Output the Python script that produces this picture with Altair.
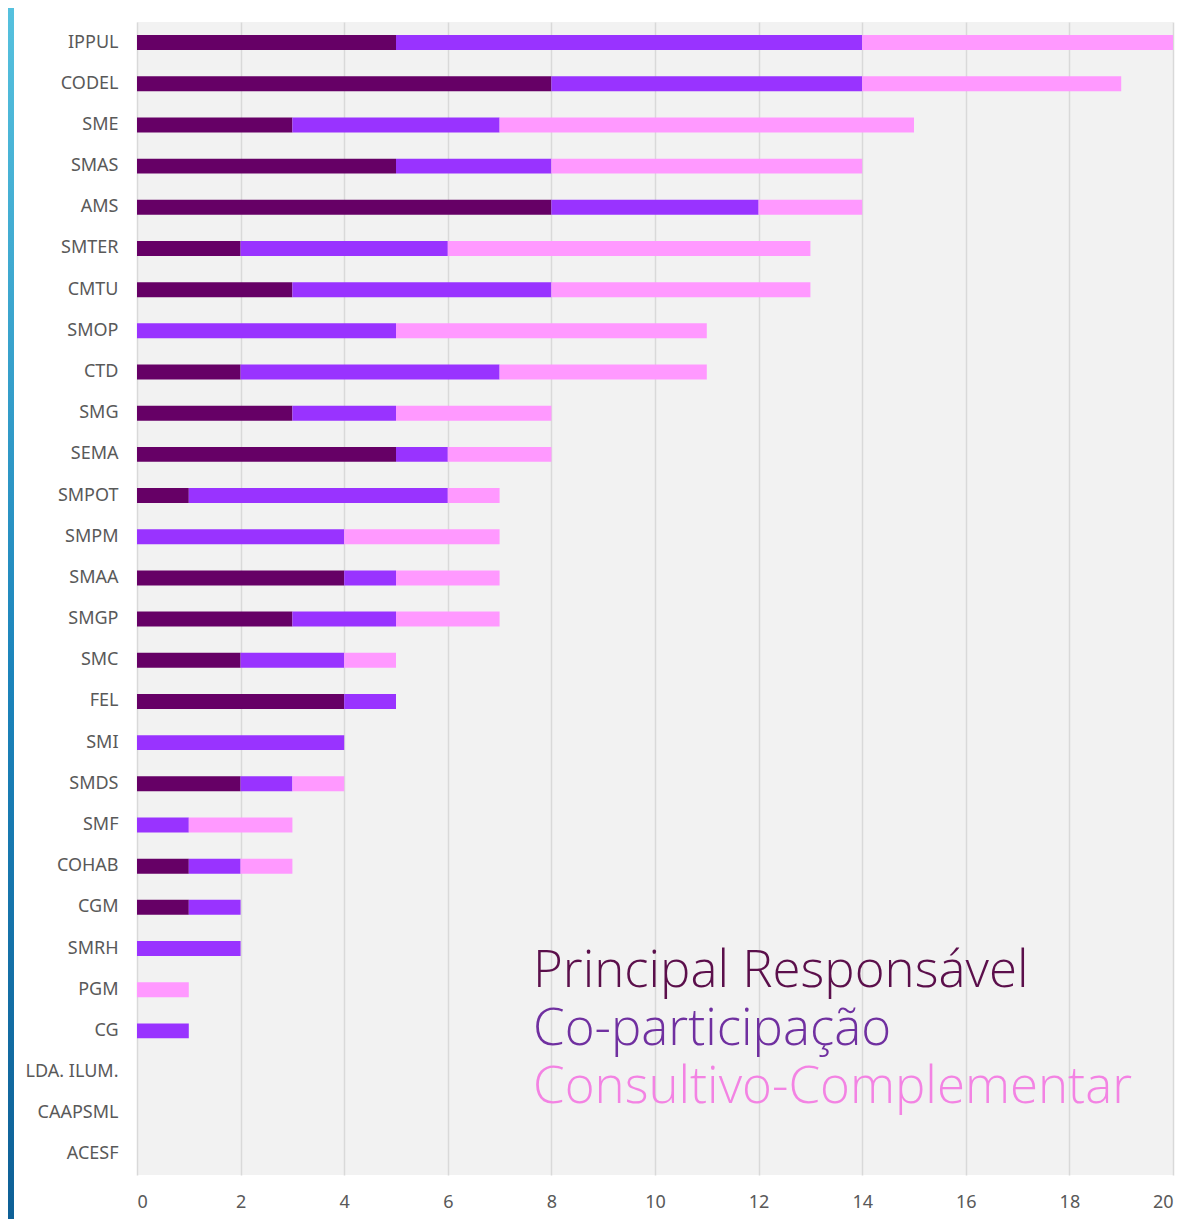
import altair as alt
import pandas as pd

categories = ["IPPUL", "CODEL", "SME", "SMAS", "AMS", "SMTER", "CMTU", "SMOP", "CTD",
              "SMG", "SEMA", "SMPOT", "SMPM", "SMAA", "SMGP", "SMC", "FEL", "SMI",
              "SMDS", "SMF", "COHAB", "CGM", "SMRH", "PGM", "CG", "LDA. ILUM.",
              "CAAPSML", "ACESF"]
principal = [5, 8, 3, 5, 8, 2, 3, 0, 2, 3, 5, 1, 0, 4, 3, 2, 4, 0, 2, 0, 1, 1, 0, 0, 0, 0, 0, 0]
coparticipacao = [9, 6, 4, 3, 4, 4, 5, 5, 5, 2, 1, 5, 4, 1, 2, 2, 1, 4, 1, 1, 1, 1, 2, 0, 1, 0, 0, 0]
consultivo = [6, 5, 8, 6, 2, 7, 5, 6, 4, 3, 2, 1, 3, 2, 2, 1, 0, 0, 1, 2, 1, 0, 0, 1, 0, 0, 0, 0]

series = ["Principal Responsável", "Co-participação", "Consultivo-Complementar"]
bar_colors = ["#660066", "#9933ff", "#ff99ff"]
text_colors = ["#5b0f4b", "#7030a0", "#f383e3"]
x_ticks = [0, 2, 4, 6, 8, 10, 12, 14, 16, 18, 20]

rows = []
for i, c in enumerate(categories):
    for k, vals in enumerate([principal, coparticipacao, consultivo]):
        rows.append({"org": c, "serie": series[k], "ordem": k, "valor": vals[i]})
df = pd.DataFrame(rows)

bars = alt.Chart(df).mark_bar().encode(
    y=alt.Y("org:N", sort=categories, title=None,
            scale=alt.Scale(paddingInner=0.636, paddingOuter=0.318),
            axis=alt.Axis(labelFontSize=18, labelColor="#595959", labelFont="Noto Sans",
                          labelPadding=19, ticks=False, domain=False, grid=False)),
    x=alt.X("valor:Q", stack="zero", title=None,
            scale=alt.Scale(domain=[0, 20], nice=False),
            axis=alt.Axis(values=x_ticks, labelFontSize=18, labelColor="#595959",
                          labelFont="Noto Sans", labelPadding=18, ticks=False,
                          domain=False, grid=True, gridColor="#d9d9d9", gridWidth=1.5)),
    color=alt.Color("serie:N", scale=alt.Scale(domain=series, range=bar_colors), legend=None),
    order=alt.Order("ordem:Q"),
)

legend_layers = []
base_y = [965, 1023, 1081]
for k in range(3):
    legend_layers.append(
        alt.Chart(pd.DataFrame({"t": [series[k]]})).mark_text(
            align="left", baseline="alphabetic", font="Open Sans", fontSize=51,
            fontWeight=300, color=text_colors[k]
        ).encode(text="t:N", x=alt.value(396), y=alt.value(base_y[k]))
    )

# decorative blue strip on the left edge of the slide
strip = alt.Chart(pd.DataFrame({"d": [0]})).mark_rect(
    color=alt.Gradient(gradient="linear", x1=0, y1=0, x2=0, y2=1,
                       stops=[alt.GradientStop(color="#56c1de", offset=0),
                              alt.GradientStop(color="#1c84bb", offset=0.55),
                              alt.GradientStop(color="#0e6096", offset=1)])
).encode(x=alt.value(-129), x2=alt.value(-123), y=alt.value(-14), y2=alt.value(1197))

chart = alt.layer(bars, *legend_layers, strip).properties(
    width=1036, height=1153,
    autosize=alt.AutoSizeParams(type="none"),
    padding={"left": 129, "top": 14, "right": 3, "bottom": 44},
    background="white",
).configure_view(fill="#f2f2f2", stroke=None)

chart.save("out.html", embed_options={"renderer": "svg", "actions": False})
